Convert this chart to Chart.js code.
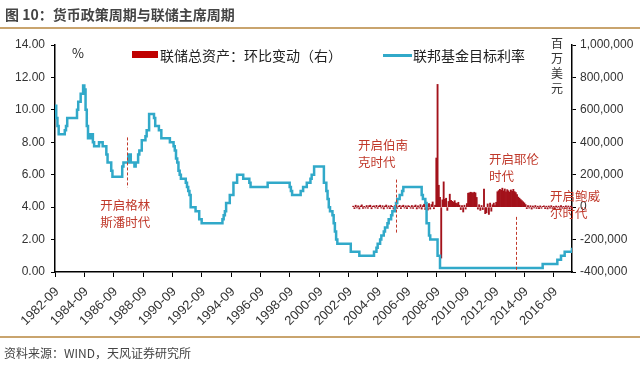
<!DOCTYPE html>
<html><head><meta charset="utf-8">
<script src="https://cdn.jsdelivr.net/npm/chart.js@4.4.1/dist/chart.umd.min.js"></script>
<style>
html,body{margin:0;padding:0;background:#fff;width:640px;height:368px;overflow:hidden;}
#wrap{position:relative;width:640px;height:368px;}
canvas{position:absolute;left:0;top:0;}
.t{position:absolute;white-space:nowrap;font-family:"Noto Sans CJK SC",sans-serif;}
</style></head><body>
<div id="wrap">
<canvas id="c" width="640" height="368"></canvas>
<div class="t" style="left:5px;top:3px;font-size:14px;font-weight:bold;color:#444;line-height:22px;">图 10：货币政策周期与联储主席周期</div>
<div style="position:absolute;left:0;top:27px;width:640px;height:2px;background:#C9A46E;"></div>
<div style="position:absolute;left:0;top:336px;width:640px;height:2px;background:#C9A46E;"></div>
<div class="t" style="left:4px;top:344px;font-size:12px;color:#444;line-height:18px;">资料来源：WIND，天风证券研究所</div>
<div style="position:absolute;left:132px;top:51px;width:26px;height:7px;background:#C00000;"></div>
<div class="t" style="left:160px;top:45px;font-size:14px;color:#222;line-height:20px;">联储总资产：环比变动（右）</div>
<div style="position:absolute;left:383px;top:54px;width:29px;height:2.5px;background:#31A9C9;"></div>
<div class="t" style="left:413px;top:45px;font-size:14px;color:#222;line-height:20px;">联邦基金目标利率</div>
<div class="t" style="left:72px;top:44px;font-size:13px;color:#222;line-height:18px;">%</div>
<div class="t" style="left:551px;top:35px;font-size:12px;color:#333;line-height:15px;">百<br>万<br>美<br>元</div>
</div>
<script>
// ---- Data ----
const xTickLabels = ['1982-09','1984-09','1986-09','1988-09','1990-09','1992-09','1994-09','1996-09','1998-09','2000-09','2002-09','2004-09','2006-09','2008-09','2010-09','2012-09','2014-09','2016-09'];
const xStart = '1982-09';
const xEnd = '2017-12';

// Fed funds target rate (%), value in effect from each date
const rateDates = ['1982-09','1982-10','1982-11','1982-12','1983-05','1983-06','1983-07','1984-03','1984-04','1984-06','1984-08','1984-09','1984-10','1984-11','1984-12','1985-02','1985-04','1985-05','1985-09','1985-12','1986-03','1986-04','1986-07','1986-08','1987-04','1987-05','1987-09','1987-11','1988-02','1988-03','1988-05','1988-06','1988-08','1988-11','1988-12','1989-02','1989-06','1989-07','1989-10','1989-12','1990-07','1990-10','1990-11','1990-12','1991-01','1991-02','1991-03','1991-04','1991-08','1991-09','1991-10','1991-11','1991-12','1992-04','1992-07','1992-09','1994-02','1994-03','1994-04','1994-05','1994-08','1994-11','1995-02','1995-07','1995-12','1996-01','1997-03','1998-09','1998-10','1998-11','1999-06','1999-08','1999-11','2000-02','2000-03','2000-05','2001-01','2001-03','2001-04','2001-05','2001-06','2001-08','2001-09','2001-10','2001-11','2001-12','2002-11','2003-06','2004-06','2004-08','2004-09','2004-11','2004-12','2005-02','2005-03','2005-05','2005-06','2005-08','2005-09','2005-11','2005-12','2006-01','2006-03','2006-05','2006-06','2007-09','2007-10','2007-12','2008-01','2008-03','2008-04','2008-10','2008-12','2015-12','2016-12','2017-03','2017-06','2017-12'];
const rateValues = [10.25,9.5,9.0,8.5,8.75,9.0,9.5,10.0,10.5,11.0,11.5,11.25,10.0,9.0,8.25,8.5,8.0,7.75,8.0,7.75,7.25,6.75,6.25,5.875,6.5,6.75,7.25,6.75,6.5,6.75,7.25,7.5,8.125,8.375,8.75,9.75,9.5,9.0,8.75,8.25,8.0,7.75,7.5,7.0,6.75,6.25,6.0,5.75,5.5,5.25,5.0,4.75,4.0,3.75,3.25,3.0,3.25,3.5,3.75,4.25,4.75,5.5,6.0,5.75,5.5,5.25,5.5,5.25,5.0,4.75,5.0,5.25,5.5,5.75,6.0,6.5,5.5,5.0,4.5,4.0,3.75,3.5,3.0,2.5,2.0,1.75,1.25,1.0,1.25,1.5,1.75,2.0,2.25,2.5,2.75,3.0,3.25,3.5,3.75,4.0,4.25,4.5,4.75,5.0,5.25,4.75,4.5,4.25,3.0,2.25,2.0,1.0,0.25,0.5,0.75,1.0,1.25,1.5];

// Fed total assets, monthly change (million USD), from 2003-01
const assetStart = '2003-01';
const assetValues = [
  6000,-9000,12000,-5000,8000,-11000,7000,14000,-8000,5000,-6000,10000,
  -7000,9000,12000,-10000,6000,8000,-5000,11000,-8000,7000,12000,-6000,
  9000,-11000,6000,13000,-7000,8000,-9000,10000,5000,-12000,9000,7000,
  -8000,6000,11000,-9000,7000,12000,-6000,8000,-10000,9000,6000,-7000,
  10000,-8000,7000,13000,-11000,8000,-6000,15000,-12000,9000,18000,-15000,
  14000,-18000,22000,-12000,16000,32000,-10000,12000,303000,757000,135000,60000,
  -314000,45000,156000,48000,55000,-20000,35000,80000,42000,36000,30000,40000,
  25000,22000,30000,12000,-15000,9000,-30000,12000,-12000,22000,86000,88000,
  92000,90000,86000,92000,88000,60000,-12000,15000,-20000,10000,-15000,112000,
  -40000,-35000,20000,-45000,25000,-25000,15000,25000,10000,30000,95000,102000,
  110000,104000,117000,100000,112000,95000,108000,101000,92000,106000,98000,110000,
  96000,90000,78000,62000,55000,47000,40000,33000,26000,16000,-9000,10000,
  -6000,9000,-12000,7000,-5000,10000,-8000,6000,-10000,8000,-7000,5000,
  8000,-9000,6000,-11000,7000,-6000,9000,-8000,5000,-10000,7000,-5000,
  6000,-8000,10000,-7000,5000,-9000,8000,-6000,7000,-12000,6000,-10000
];

// Chair-era annotations
const annoLineDates = ['1987-08','2005-12','2014-02'];
const annoLineFrom = [5.2, 2.4, 0.1];
const annoLineTo = [8.3, 5.7, 3.4];
const annoTextDates = ['1985-10','2003-05','2012-04','2016-06'];
const annoTextRate = [4.14, 7.84, 6.98, 4.69];
const annoTexts = [['开启格林','斯潘时代'],['开启伯南','克时代'],['开启耶伦','时代'],['开启鲍威','尔时代']];

// ---- Build ----
function ym(s){const p=s.split('-');return +p[0]+(+p[1]-1)/12;}
const ratePts = rateDates.map((d,i)=>({x:ym(d),y:rateValues[i]}));
const a0 = ym(assetStart);
const assetPts = assetValues.map((v,i)=>({x:a0+i/12,y:v}));

const RED='#C0392B';
const annoPlugin = {
  id:'anno',
  afterDatasetsDraw(chart){
    const {ctx, scales:{x,y}} = chart;
    ctx.save();
    ctx.strokeStyle=RED; ctx.lineWidth=1; ctx.setLineDash([3,2]);
    annoLineDates.forEach((d,i)=>{
      const px=Math.round(x.getPixelForValue(ym(d)))+0.5;
      ctx.beginPath(); ctx.moveTo(px,y.getPixelForValue(annoLineTo[i])); ctx.lineTo(px,y.getPixelForValue(annoLineFrom[i])); ctx.stroke();
    });
    ctx.setLineDash([]);
    ctx.fillStyle=RED; ctx.font='12.5px "Noto Sans CJK SC"'; ctx.textAlign='left'; ctx.textBaseline='middle';
    annoTextDates.forEach((d,i)=>{
      const px=x.getPixelForValue(ym(d)), py=y.getPixelForValue(annoTextRate[i]);
      annoTexts[i].forEach((t,j)=>ctx.fillText(t,px,py+j*17));
    });
    ctx.restore();
  }
};

const tickFont={family:'"Liberation Sans", Arial, sans-serif',size:12};
new Chart(document.getElementById('c'),{
  data:{datasets:[
    {type:'line',label:'联邦基金目标利率',data:ratePts,yAxisID:'y',xAxisID:'x',stepped:true,borderColor:'#31A9C9',borderWidth:2.5,pointRadius:0,fill:false,order:0},
    {type:'bar',label:'联储总资产：环比变动（右）',data:assetPts,yAxisID:'y1',xAxisID:'x',backgroundColor:'#A3121B',barPercentage:1,categoryPercentage:1,order:1}
  ]},
  options:{
    responsive:false,animation:false,devicePixelRatio:1,
    layout:{padding:{top:45,left:0,right:0,bottom:0}},
    plugins:{legend:{display:false},tooltip:{enabled:false}},
    scales:{
      x:{type:'linear',position:'bottom',min:ym(xStart),max:ym(xEnd),offset:false,
        afterBuildTicks:s=>{s.ticks=xTickLabels.map(l=>({value:ym(l)}));},
        afterFit:s=>{s.height=96;},
        ticks:{autoSkip:false,minRotation:45,maxRotation:45,padding:7,labelOffset:2,font:{family:tickFont.family,size:13},color:'#333',callback:(v,i)=>xTickLabels[i]},
        grid:{drawOnChartArea:false,offset:false,tickLength:5,color:'#000'},
        border:{color:'#000',width:1.5}},
      y:{position:'left',min:0,max:14,
        afterFit:s=>{s.width=55;},
        ticks:{stepSize:2,padding:6,font:tickFont,color:'#333',callback:v=>v.toFixed(2)},
        grid:{drawOnChartArea:false,tickLength:4,color:'#000'},
        border:{color:'#000',width:1.5}},
      y1:{position:'right',min:-400000,max:1000000,
        afterFit:s=>{s.width=68;},
        ticks:{stepSize:200000,padding:4,font:tickFont,color:'#333',callback:v=>v.toLocaleString('en-US')},
        grid:{drawOnChartArea:false,tickLength:4,color:'#000'},
        border:{color:'#000',width:1.5}}
    }
  },
  plugins:[annoPlugin]
});
</script>
</body></html>
